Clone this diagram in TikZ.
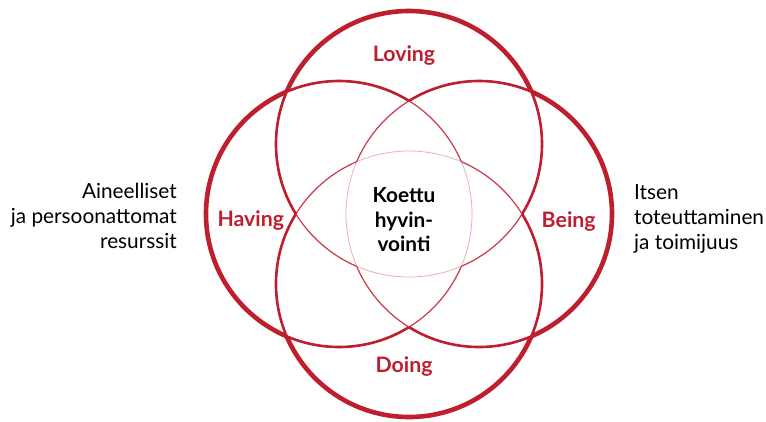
\documentclass[tikz,border=0pt]{standalone}
\usepackage{fontspec}
\setmainfont{Lato}
\definecolor{vred}{RGB}{190,30,45}
\begin{document}
\begin{tikzpicture}[x=1pt,y=-1pt,
  lvl0/.style={draw=vred,line width=4.6pt},
  lvl1/.style={draw=vred,line width=2.6pt},
  lvl2/.style={draw=vred!85,line width=1.2pt},
  lvl3/.style={draw=vred!35,line width=0.8pt},
  lab/.style={text=vred,font=\fontsize{21.3}{24}\selectfont\bfseries,inner sep=0pt,anchor=base},
  ctr/.style={text=black,font=\fontsize{20.8}{24.5}\selectfont\bfseries,inner sep=0pt,align=center},
  side/.style={text=black,font=\fontsize{20.8}{25}\selectfont,inner sep=0pt}]
\useasboundingbox (0,0) rectangle (766,421);
\def\rr{133pt}
\newcommand\excl[1]{\clip (-50,-50) -- (820,-50) -- (820,470) -- (-50,470) -- cycle (#1) circle[radius=\rr];}
\coordinate (T) at (409,144);
\coordinate (L) at (339,214);
\coordinate (R) at (479,214);
\coordinate (B) at (409,284);
% level 3: inside three other circles
\foreach \i in {T,L,R,B} \draw[lvl3] (\i) circle[radius=\rr];
% level 2
\foreach \i/\j in {T/L,T/R,T/B,L/T,L/R,L/B,R/T,R/L,R/B,B/T,B/L,B/R}{
  \begin{scope}\excl{\j}\draw[lvl2] (\i) circle[radius=\rr];\end{scope}}
% level 1
\foreach \i/\j/\k in {T/L/R,T/L/B,T/R/B,L/T/R,L/T/B,L/R/B,R/T/L,R/T/B,R/L/B,B/T/L,B/T/R,B/L/R}{
  \begin{scope}\excl{\j}\excl{\k}\draw[lvl1] (\i) circle[radius=\rr];\end{scope}}
% level 0
\foreach \i/\j/\k/\l in {T/L/R/B,L/T/R/B,R/T/L/B,B/T/L/R}{
  \begin{scope}\excl{\j}\excl{\k}\excl{\l}\draw[lvl0] (\i) circle[radius=\rr];\end{scope}}
% labels
\node[lab] (loving) at (404,61) {Loving};
\node[lab] (having) at (250.8,226.5) {Having};
\node[lab] (being) at (568.7,227) {Being};
\node[lab] (doing) at (404,372) {Doing};
\node[ctr] (koettu) at (404,220) {Koettu\\hyvin-\\vointi};
\node[side,align=right,anchor=east] (left) at (177,215.6) {Aineelliset\\ja persoonattomat\\resurssit};
\node[side,align=left,anchor=west] (right) at (634,219.4) {Itsen\\toteuttaminen\\ja toimijuus};
\end{tikzpicture}
\end{document}
